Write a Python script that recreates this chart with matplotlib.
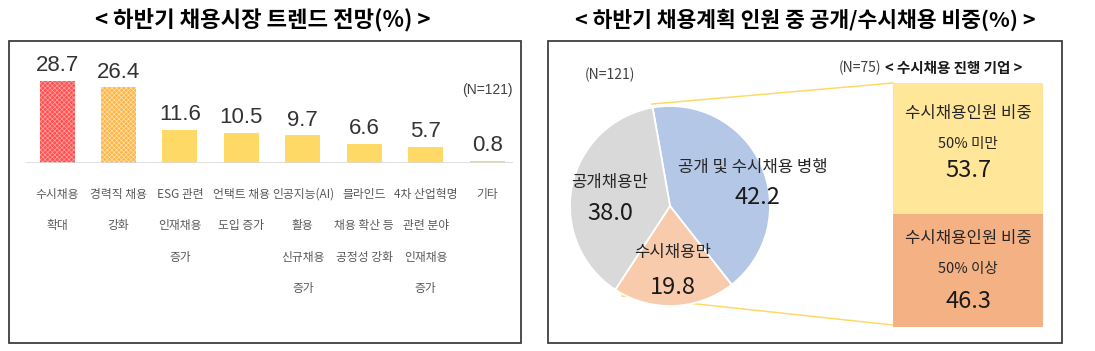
import matplotlib
matplotlib.use("Agg")
import matplotlib.pyplot as plt
from matplotlib import font_manager
from matplotlib.patches import Rectangle
from matplotlib.lines import Line2D

plt.rcParams["font.family"] = ["Noto Sans CJK KR", "DejaVu Sans"]
plt.rcParams["hatch.linewidth"] = 0.5

_names = {f.name for f in font_manager.fontManager.ttflist}
NARROW = "Liberation Sans Narrow" if "Liberation Sans Narrow" in _names else "Liberation Sans"

# ---- data ----
trend_labels = [
    "수시채용\n확대",
    "경력직 채용\n강화",
    "ESG 관련\n인재채용\n증가",
    "언택트 채용\n도입 증가",
    "인공지능(AI)\n활용\n신규채용\n증가",
    "블라인드\n채용 확산 등\n공정성 강화",
    "4차 산업혁명\n관련 분야\n인재채용\n증가",
    "기타",
]
trend_values = [28.7, 26.4, 11.6, 10.5, 9.7, 6.6, 5.7, 0.8]

pie_labels = ["공개 및 수시채용 병행", "수시채용만", "공개채용만"]
pie_values = [42.2, 19.8, 38.0]

sub_labels = ["수시채용인원 비중\n50% 미만", "수시채용인원 비중\n50% 이상"]
sub_values = [53.7, 46.3]

W, H = 1095, 351
fig = plt.figure(figsize=(W / 100, H / 100), dpi=100)
fig.patch.set_facecolor("white")


def fx(x):
    return x / W


def fy(y):
    return 1 - y / H


def px_axes(x0, y0, x1, y1, **kw):
    return fig.add_axes([fx(x0), fy(y1), (x1 - x0) / W, (y1 - y0) / H], **kw)


# background overlay for frames / titles
bg = fig.add_axes([0, 0, 1, 1])
bg.set_xlim(0, W)
bg.set_ylim(H, 0)
bg.axis("off")
bg.add_patch(Rectangle((9, 41), 512, 302, fill=False, ec="#3f3f3f", lw=1.3))
bg.add_patch(Rectangle((548, 41), 514, 302, fill=False, ec="#3f3f3f", lw=1.3))
bg.text(263, 20, "< 하반기 채용시장 트렌드 전망(%) >", ha="center", va="center",
        fontsize=16, fontweight="bold")
bg.text(805, 20, "< 하반기 채용계획 인원 중 공개/수시채용 비중(%) >", ha="center",
        va="center", fontsize=15.5, fontweight="bold")

# ---- left: bar chart ----
ax = px_axes(26, 60, 513, 163)
ax.set_zorder(2)
ax.patch.set_alpha(0)
xs = list(range(len(trend_values)))
faces = ["#FF4F4F", "#FFB54A"] + ["#FFD966"] * (len(trend_values) - 2)
hatches = ["xxxxxxx", "xxxxxxx"] + [None] * (len(trend_values) - 2)
hcolors = ["#FFA3A3", "#FFE2A8"] + ["#FFD966"] * (len(trend_values) - 2)
for x, v, fc, hc, ht in zip(xs, trend_values, faces, hcolors, hatches):
    ax.bar(x, v, width=0.57, color=fc, edgecolor=hc, hatch=ht, lw=0)
    ax.text(x, v + 1.6, f"{v:.1f}", ha="center", va="bottom", fontsize=16,
            family=NARROW, color="#333333")
ax.axhline(0, color="#D9D9D9", lw=1.2)
ax.set_xlim(-0.505, 7.42)
ax.set_ylim(0, 35.9)
ax.axis("off")
for x, lab in zip(xs, trend_labels):
    ax.text(x, -8.6, lab, ha="center", va="top", fontsize=8.5, color="#595959",
            linespacing=2.85)
ax.text(7, 25.5, "(N=121)", ha="center", va="center", fontsize=10,
        family=NARROW, color="#404040")

# ---- right: pie ----
pax = px_axes(570, 106, 770, 306)
pax.pie(pie_values, colors=["#B4C7E7", "#F8CBAD", "#D9D9D9"], startangle=100,
        counterclock=False, radius=1,
        wedgeprops=dict(edgecolor="white", linewidth=1.3))
pax.set_xlim(-1, 1)
pax.set_ylim(-1, 1)
pax.set_aspect("equal")
pax.axis("off")
label_pos = [(0.83, 0.39), (0.03, -0.46), (-0.60, 0.24)]
value_pos = [(0.87, 0.08), (0.03, -0.81), (-0.60, -0.07)]
for lab, v, lp, vp in zip(pie_labels, pie_values, label_pos, value_pos):
    pax.text(*lp, lab, ha="center", va="center", fontsize=12, color="#262626",
             clip_on=False)
    pax.text(*vp, f"{v:.1f}", ha="center", va="center", fontsize=17,
             color="#1a1a1a", clip_on=False)
bg.text(610, 75, "(N=121)", ha="center", va="center", fontsize=10, color="#404040")

# connectors from the pie to the breakdown box
bg.add_line(Line2D([652, 893], [104, 83], color="#FFD966", lw=1.1))
bg.add_line(Line2D([622, 893], [296, 325], color="#FFD966", lw=1.1))

# ---- right: stacked box ----
sax = px_axes(893, 83, 1043, 327)
sax.bar(0, sub_values[1], width=1, color="#F4B183", lw=0)
sax.bar(0, sub_values[0], width=1, bottom=sub_values[1], color="#FFE699", lw=0)
sax.set_xlim(-0.5, 0.5)
sax.set_ylim(0, sum(sub_values))
sax.axis("off")


def sy(py):
    return (327 - py) / 244 * 100


for lab, v, y_lab, y_val in zip(sub_labels, sub_values, [113, 238], [170, 302]):
    first, second = lab.split("\n")
    sax.text(0, sy(y_lab), first, ha="center", va="center", fontsize=12, color="#262626")
    sax.text(0, sy(y_lab + 31), second, ha="center", va="center", fontsize=10.5,
             color="#262626")
    sax.text(0, sy(y_val), f"{v:.1f}", ha="center", va="center", fontsize=17,
             color="#1a1a1a")

bg.text(881, 68, "(N=75)", ha="right", va="center", fontsize=10, color="#404040")
bg.text(885, 68, "< 수시채용 진행 기업 >", ha="left", va="center", fontsize=10.5,
        fontweight="bold", color="#1a1a1a")

fig.savefig("out.png", dpi=100)
